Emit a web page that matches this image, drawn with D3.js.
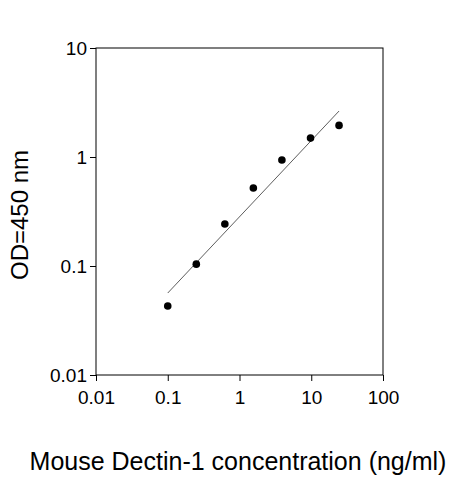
<!DOCTYPE html>
<html><head><meta charset="utf-8">
<script src="https://cdn.jsdelivr.net/npm/d3@7"></script>
<style>body{margin:0;background:#fff}text{font-family:Arial,"Liberation Sans",sans-serif}</style>
</head><body><svg id="c" width="463" height="480"></svg>
<script>
const conc = [0.1, 0.25, 0.625, 1.56, 3.9, 9.77, 24.4];
const od = [0.043, 0.104, 0.243, 0.52, 0.94, 1.49, 1.95];
const fitX = [0.1, 24.4];
const fitY = [0.0565, 2.64];
const xTicks = [0.01, 0.1, 1, 10, 100];
const yTicks = [0.01, 0.1, 1, 10];
const xTickLabels = ["0.01", "0.1", "1", "10", "100"];
const yTickLabels = ["0.01", "0.1", "1", "10"];

const svg = d3.select("#c");
const L = 96, R = 383, T = 48, B = 375;
const x = d3.scaleLog().domain([0.01, 100]).range([L, R]);
const y = d3.scaleLog().domain([0.01, 10]).range([B, T]);

svg.append("rect").attr("x", L).attr("y", T).attr("width", R - L).attr("height", B - T)
  .attr("fill", "none").attr("stroke", "#000").attr("stroke-width", 1);

const xa = svg.append("g").attr("transform", `translate(0,${B})`)
  .call(d3.axisBottom(x).tickValues(xTicks).tickFormat((d, i) => xTickLabels[i]).tickSize(6).tickSizeOuter(0));
const ya = svg.append("g").attr("transform", `translate(${L},0)`)
  .call(d3.axisLeft(y).tickValues(yTicks).tickFormat((d, i) => yTickLabels[i]).tickSize(6).tickSizeOuter(0));
[xa, ya].forEach(a => { a.selectAll("text").attr("font-size", 19).attr("fill", "#000").style("font-family", "Arial, 'Liberation Sans', sans-serif"); a.select(".domain").remove(); });
xa.selectAll("text").attr("dy", "1.05em");

svg.append("line").attr("x1", x(fitX[0])).attr("y1", y(fitY[0])).attr("x2", x(fitX[1])).attr("y2", y(fitY[1]))
  .attr("stroke", "#333").attr("stroke-width", 0.8);

svg.selectAll("circle.p").data(conc).enter().append("circle")
  .attr("cx", d => x(d)).attr("cy", (d, i) => y(od[i])).attr("r", 3.8).attr("fill", "#000");

svg.append("text").attr("x", 238).attr("y", 470).attr("text-anchor", "middle").attr("font-size", 25)
  .text("Mouse Dectin-1 concentration (ng/ml)");
svg.append("text").attr("transform", "translate(28,215) rotate(-90)").attr("text-anchor", "middle").attr("font-size", 24)
  .text("OD=450 nm");
</script></body></html>
